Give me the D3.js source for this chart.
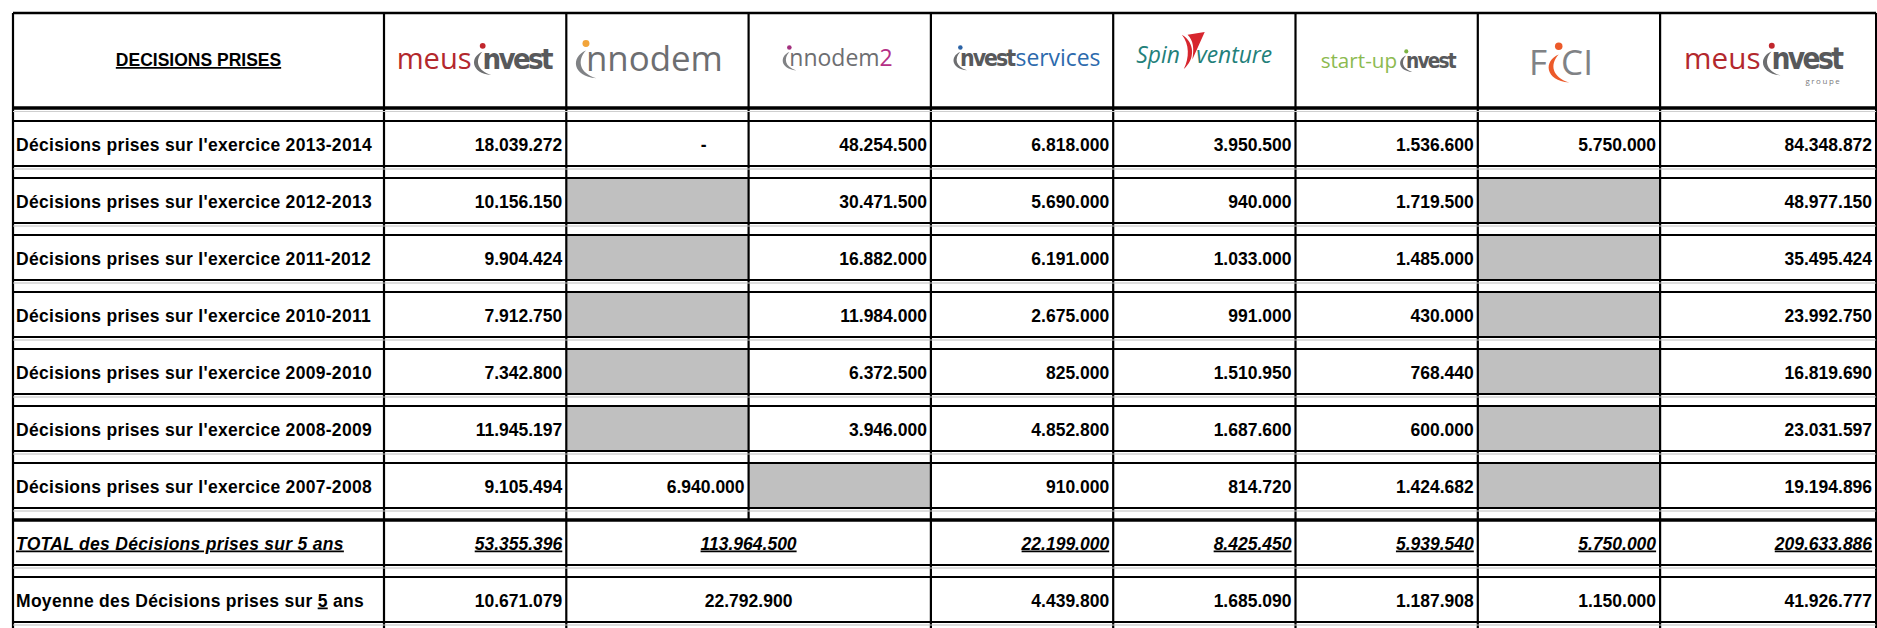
<!DOCTYPE html>
<html><head><meta charset="utf-8">
<script src="https://cdn.jsdelivr.net/npm/d3@7"></script>
<style>body{margin:0;background:#fff}svg{display:block}</style>
</head><body><svg id="c" width="1877" height="628"></svg>
<script>
// ---------------- DATA ----------------
const headerLabel = "DECISIONS PRISES";
const years = ["2013-2014","2012-2013","2011-2012","2010-2011","2009-2010","2008-2009","2007-2008"];
const companies = ["meusinvest","innodem","innodem2","investservices","spinventure","startupinvest","fcci","meusinvestgroupe"];
// null = grey (no activity) cell, 0 = "-"
const meusinvest     = [18039272, 10156150, 9904424, 7912750, 7342800, 11945197, 9105494];
const innodem        = [0, null, null, null, null, null, 6940000];
const innodem2       = [48254500, 30471500, 16882000, 11984000, 6372500, 3946000, null];
const investServices = [6818000, 5690000, 6191000, 2675000, 825000, 4852800, 910000];
const spinVenture    = [3950500, 940000, 1033000, 991000, 1510950, 1687600, 814720];
const startUpInvest  = [1536600, 1719500, 1485000, 430000, 768440, 600000, 1424682];
const fcci           = [5750000, null, null, null, null, null, null];
const groupe         = [84348872, 48977150, 35495424, 23992750, 16819690, 23031597, 19194896];
const totalLabel = "TOTAL des Décisions prises sur 5 ans";
const avgLabelParts = ["Moyenne des Décisions prises sur ", "5", " ans"];
// innodem + innodem2 share one merged cell in the two summary rows
const summaryGroups = [["meusinvest"],["innodem","innodem2"],["investservices"],["spinventure"],["startupinvest"],["fcci"],["meusinvestgroupe"]];
const totals   = [53355396, 113964500, 22199000, 8425450, 5939540, 5750000, 209633886];
const averages = [10671079, 22792900, 4439800, 1685090, 1187908, 1150000, 41926777];

// ---------------- LAYOUT ----------------
const series = [meusinvest, innodem, innodem2, investServices, spinVenture, startUpInvest, fcci, groupe];
const svg = d3.select("#c");
svg.append("rect").attr("width",1877).attr("height",628).attr("fill","#fff");
const left = 13, labelW = 371, colW = 182.3, lastW = 216;
const widths = [labelW, colW, colW, colW, colW, colW, colW, colW, lastW];
const edges = [left, ...Array.from(d3.cumsum(widths), v => left + v)];
const x = d3.scaleOrdinal().domain(["label", ...companies]).range(edges.slice(0, 9));
const xr = d3.scaleOrdinal().domain(["label", ...companies]).range(edges.slice(1));
const headerTop = 13, headerBottom = 108, rowH = 45;
const y = d3.scaleLinear().domain([0, 1]).range([121, 178]); // row index -> row top
const fs = 17.5;
const fmt = d3.formatLocale({decimal: ",", thousands: ".", grouping: [3], currency: ["", ""]}).format(",d");

function txt(g, xx, yy, s, o) {
  o = o || {};
  const t = g.append("text")
    .attr("x", xx).attr("y", yy)
    .attr("font-family", "Liberation Sans, Arial, sans-serif")
    .attr("font-size", o.size || fs)
    .attr("font-weight", "bold")
    .attr("font-style", o.italic ? "italic" : "normal")
    .attr("text-anchor", o.anchor || "start")
    .attr("letter-spacing", o.ls || 0)
    .attr("fill", "#000")
    .style("text-decoration", o.underline ? "underline" : "none")
    .text(s);
  return t;
}

// grey cells
const gCells = svg.append("g");
years.forEach((yr, r) => {
  companies.forEach((c, ci) => {
    if (series[ci][r] === null) {
      gCells.append("rect").attr("x", x(c)).attr("y", y(r)).attr("width", xr(c) - x(c)).attr("height", rowH).attr("fill", "#c0c0c0");
    }
  });
});

// lines
const gl = svg.append("g").attr("stroke", "#000");
edges.forEach((e, i) => {
  const y2 = (i === 3) ? y(7) : 628;
  gl.append("line").attr("x1", e).attr("x2", e).attr("y1", headerTop).attr("y2", y2).attr("stroke-width", 2.2);
});
gl.append("line").attr("x1", left).attr("x2", edges[9]).attr("y1", headerTop).attr("y2", headerTop).attr("stroke-width", 2.5);
gl.append("line").attr("x1", left).attr("x2", edges[9]).attr("y1", headerBottom).attr("y2", headerBottom).attr("stroke-width", 3.5);
for (let i = 0; i <= 8; i++) {
  gl.append("line").attr("x1", left).attr("x2", edges[9]).attr("y1", y(i)).attr("y2", y(i)).attr("stroke-width", i === 7 ? 3.5 : 2.2);
  gl.append("line").attr("x1", left).attr("x2", edges[9]).attr("y1", y(i) + rowH).attr("y2", y(i) + rowH).attr("stroke-width", 2.2);
  gl.append("line").attr("x1", left).attr("x2", edges[9]).attr("y1", y(i) + rowH + 3).attr("y2", y(i) + rowH + 3).attr("stroke", "#bdbdbd").attr("stroke-width", 1.2);
}
gl.append("line").attr("x1", left).attr("x2", edges[9]).attr("y1", headerBottom + 3.5).attr("y2", headerBottom + 3.5).attr("stroke", "#cfcfcf").attr("stroke-width", 1);

// header label
const gt = svg.append("g");
txt(gt, (x("label") + xr("label")) / 2, 66, headerLabel, {anchor: "middle", underline: true});

// data rows
const labelLs = 0.3;
years.forEach((yr, r) => {
  const by = y(r) + rowH / 2 + 7;
  txt(gt, x("label") + 3, by, `Décisions prises sur l'exercice ${yr}`, {ls: labelLs});
  companies.forEach((c, ci) => {
    const v = series[ci][r];
    if (v === null) return;
    if (v === 0) txt(gt, xr(c) - 42, by, "-", {anchor: "end"});
    else txt(gt, xr(c) - 4, by, fmt(v), {anchor: "end"});
  });
});
// totals
{
  const by = y(7) + rowH / 2 + 7;
  txt(gt, x("label") + 3, by, totalLabel, {italic: true, underline: true, ls: labelLs});
  summaryGroups.forEach((grp, gi) => {
    const x0 = x(grp[0]), x1 = xr(grp[grp.length - 1]);
    if (grp.length > 1) txt(gt, (x0 + x1) / 2, by, fmt(totals[gi]), {anchor: "middle", italic: true, underline: true});
    else txt(gt, x1 - 4, by, fmt(totals[gi]), {anchor: "end", italic: true, underline: true});
  });
}
// averages
{
  const by = y(8) + rowH / 2 + 7;
  const t = txt(gt, x("label") + 3, by, "", {ls: labelLs});
  t.append("tspan").text(avgLabelParts[0]);
  t.append("tspan").style("text-decoration", "underline").text(avgLabelParts[1]);
  t.append("tspan").text(avgLabelParts[2]);
  summaryGroups.forEach((grp, gi) => {
    const x0 = x(grp[0]), x1 = xr(grp[grp.length - 1]);
    if (grp.length > 1) txt(gt, (x0 + x1) / 2, by, fmt(averages[gi]), {anchor: "middle"});
    else txt(gt, x1 - 4, by, fmt(averages[gi]), {anchor: "end"});
  });
}

// ---------------- LOGOS ----------------
function addText(g, xx, s, o) {
  const t = g.append("text").attr("x", xx).attr("y", o.y || 0).text(s)
    .attr("font-family", o.family || "Open Sans, sans-serif")
    .attr("font-size", o.size).attr("fill", o.color)
    .attr("font-weight", o.weight || 400).attr("font-style", o.style || "normal")
    .attr("letter-spacing", o.ls || 0);
  return xx + t.node().getComputedTextLength();
}
function crescent(g, xx, s, color) {
  g.append("path").attr("fill", color).attr("d",
    `M${xx+0.30*s},${-0.60*s} C${xx-0.14*s},${-0.42*s} ${xx-0.10*s},${0.14*s} ${xx+0.60*s},${0.20*s} C${xx+0.10*s},${0.04*s} ${xx+0.04*s},${-0.32*s} ${xx+0.30*s},${-0.60*s} Z`);
}
function investMark(g, xx, s, dotColor, textColor, word) {
  crescent(g, xx, s, "#6d6e70");
  g.append("circle").attr("cx", xx + 0.31*s).attr("cy", -0.80*s).attr("r", 0.1*s).attr("fill", dotColor);
  return addText(g, xx + 0.30*s, word || "nvest", {family: "DejaVu Sans Condensed, DejaVu Sans", weight: 700, size: s, color: textColor, ls: -0.09*s});
}
function place(g, cx, cy, w) {
  const b = g.node().getBBox();
  const k = w / b.width;
  g.attr("transform", `translate(${cx},${cy}) scale(${k}) translate(${-(b.x + b.width/2)},${-(b.y + b.height/2)})`);
}
const gLogo = svg.append("g");
const colCenter = c => (x(c) + xr(c)) / 2;
// meusinvest
{
  const g = gLogo.append("g");
  let p = addText(g, 0, "meus", {size: 30, color: "#b3282d"});
  investMark(g, p + 2, 30, "#c1272d", "#58595b");
  place(g, colCenter("meusinvest"), 58, 157);
}
// innodem
{
  const g = gLogo.append("g");
  crescent(g, 0, 30, "#808285");
  g.append("circle").attr("cx", 9).attr("cy", -24).attr("r", 3).attr("fill", "#f2a43a");
  addText(g, 9, "nnodem", {size: 30, color: "#6d6e71"});
  place(g, colCenter("innodem") - 8, 58, 147);
}
// innodem2
{
  const g = gLogo.append("g");
  crescent(g, 0, 30, "#808285");
  g.append("circle").attr("cx", 9).attr("cy", -24).attr("r", 3).attr("fill", "#a3307e");
  let p = addText(g, 9, "nnodem", {size: 30, color: "#6d6e71"});
  addText(g, p, "2", {size: 30, color: "#b52f86"});
  place(g, colCenter("innodem2") - 2, 57, 110);
}
// invest services
{
  const g = gLogo.append("g");
  let p = investMark(g, 0, 30, "#2b63a6", "#58595b");
  addText(g, p + 2, "services", {size: 30, color: "#2c6aad"});
  place(g, colCenter("investservices") + 5, 57, 147);
}
// spin venture
{
  const g = gLogo.append("g");
  let p = addText(g, 0, "Spin", {size: 24, color: "#23807a", style: "italic"});
  const s = p + 2;
  g.append("path").attr("fill", "#d7262e").attr("d",
    `M${s},${-30} C${s+14},${-22} ${s+14},${-4} ${s+2},${6} C${s+8},${-6} ${s+8},${-20} ${s},${-30} Z`);
  g.append("path").attr("fill", "#d7262e").attr("d",
    `M${s+6},${-30} L${s+24},${-33} L${s+11},${-4} C${s+13},${-16} ${s+12},${-24} ${s+6},${-30} Z`);
  addText(g, s + 15, "venture", {size: 24, color: "#23807a", style: "italic"});
  place(g, colCenter("spinventure"), 51, 136);
}
// start-up invest
{
  const g = gLogo.append("g");
  let p = addText(g, 0, "start-up", {size: 30, color: "#8cba4f"});
  investMark(g, p + 4, 30, "#7db343", "#58595b");
  place(g, colCenter("startupinvest") + 2, 60, 136);
}
// FCCI
{
  const g = gLogo.append("g");
  let p = addText(g, 0, "F", {size: 30, color: "#808285"});
  crescent(g, p + 1, 30, "#ec5a2a");
  g.append("circle").attr("cx", p + 10).attr("cy", -25).attr("r", 3.2).attr("fill", "#ec5a2a");
  addText(g, p + 12, "CI", {size: 30, color: "#808285"});
  place(g, colCenter("fcci") - 8, 62, 64);
}
// meusinvest groupe
{
  const g = gLogo.append("g");
  let p = addText(g, 0, "meus", {size: 30, color: "#b3282d"});
  let e = investMark(g, p + 2, 30, "#c1272d", "#58595b");
  g.append("text").attr("x", e).attr("y", 15).attr("text-anchor", "end")
    .attr("font-family", "Open Sans, sans-serif").attr("font-size", 8).attr("letter-spacing", 1.6)
    .attr("fill", "#7a7a7c").text("groupe");
  place(g, colCenter("meusinvestgroupe") - 4, 62, 160);
}
</script></body></html>
